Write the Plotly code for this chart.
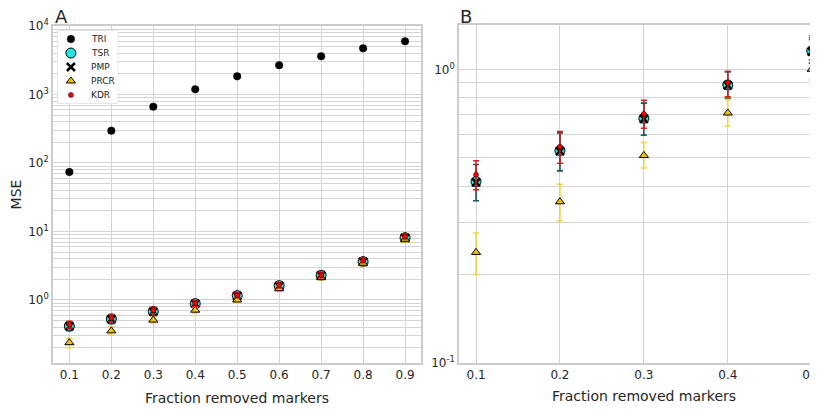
import math
import plotly.graph_objects as go

fractions = [0.1, 0.2, 0.3, 0.4, 0.5, 0.6, 0.7, 0.8, 0.9]

tri = [74, 296, 665, 1190, 1840, 2670, 3610, 4720, 5970]

tsr = [0.415, 0.529, 0.681, 0.885, 1.157, 1.62, 2.29, 3.63, 8.13]
tsr_hi = [0.474, 0.608, 0.769, 0.980, 1.28, 1.80, 2.55, 4.00, 9.0]
tsr_lo = [0.357, 0.452, 0.598, 0.797, 1.05, 1.45, 2.05, 3.30, 7.3]

pmp = [0.412, 0.527, 0.678, 0.882, 1.150, 1.61, 2.28, 3.62, 8.10]
pmp_hi = [0.474, 0.606, 0.765, 0.985, 1.30, 1.80, 2.55, 4.00, 9.0]
pmp_lo = [0.357, 0.450, 0.596, 0.795, 1.05, 1.45, 2.05, 3.30, 7.3]

prcr = [0.238, 0.354, 0.509, 0.710, 1.000, 1.46, 2.12, 3.43, 7.7]
prcr_hi = [0.277, 0.406, 0.563, 0.790, 1.08, 1.60, 2.30, 3.70, 8.4]
prcr_lo = [0.200, 0.305, 0.461, 0.641, 0.92, 1.33, 1.95, 3.15, 7.0]

kdr = [0.438, 0.545, 0.705, 0.900, 1.172, 1.65, 2.32, 3.80, 8.5]
kdr_hi = [0.488, 0.614, 0.785, 0.984, 1.26, 1.80, 2.55, 4.10, 9.3]
kdr_lo = [0.389, 0.479, 0.630, 0.807, 1.076, 1.50, 2.10, 3.50, 7.8]

series_names = ["TRI", "TSR", "PMP", "PRCR", "KDR"]
xticks_a = [0.1, 0.2, 0.3, 0.4, 0.5, 0.6, 0.7, 0.8, 0.9]
xticks_b = [0.1, 0.2, 0.3, 0.4, 0.5]

FONT = "DejaVu Sans"
TXT = "#262626"
GRID = "#d4d4d4"
SPINE = "#cccccc"

# the page places the figure 8 px from its top-left corner
OFF = 8
W, H = 818 - OFF, 410 - OFF


def px(x):
    return (x - OFF) / W


def py(y):
    return (410 - y) / H


def err(vals, hi, lo, color, thick):
    return dict(type="data", symmetric=False,
                array=[h - v for h, v in zip(hi, vals)],
                arrayminus=[v - l for v, l in zip(vals, lo)],
                color=color, thickness=thick, width=3)


def log_ticks(dmin, dmax):
    vals, txt = [], []
    for d in range(dmin, dmax + 1):
        for m in range(1, 10):
            vals.append(m * 10 ** d)
            txt.append(f"10<sup>{d}</sup>" if m == 1 else "")
    return vals, txt


markers = {
    "TRI": dict(symbol="circle", size=7.5, color="black", line=dict(color="black", width=0.5)),
    "TSR": dict(symbol="circle", size=10, color="#22e5e5", line=dict(color="black", width=1)),
    "PMP": dict(symbol="x-thin", size=8, color="black", line=dict(color="black", width=2.5)),
    "PRCR": dict(symbol="triangle-up", size=8, color="#f2c200", line=dict(color="black", width=1)),
    "KDR": dict(symbol="circle", size=5, color="red", line=dict(color="black", width=0.5)),
}

series = [
    ("TRI", tri, None),
    ("TSR", tsr, (tsr_hi, tsr_lo, "#2e7878", 1.5)),
    ("PMP", pmp, (pmp_hi, pmp_lo, "#234f4f", 1.0)),
    ("PRCR", prcr, (prcr_hi, prcr_lo, "#f5d33a", 1.5)),
    ("KDR", kdr, (kdr_hi, kdr_lo, "#e01818", 1.5)),
]

# panel geometry (page pixels)
A_L, A_R, A_T, A_B = 53, 421, 26, 363
B_L, B_T, B_B = 459, 25, 363
A_XR = [0.061, 0.938]
A_YR = [-0.92, 4.0]

fig = go.Figure()

for xa, ya, clip in [("x", "y", True), ("x2", "y2", False)]:
    for name, vals, e in series:
        if not clip and name == "TRI":
            continue
        kw = {}
        if e is not None:
            kw["error_y"] = err(vals, *e)
        fig.add_trace(go.Scatter(
            x=fractions, y=vals, mode="markers", name=name, marker=markers[name],
            xaxis=xa, yaxis=ya, showlegend=False, cliponaxis=clip, **kw))

# legend keys, drawn in a small overlay axis of their own
n = len(series_names)
for i, name in enumerate(series_names):
    fig.add_trace(go.Scatter(
        x=[0.22], y=[n - i], mode="markers", marker=markers[name],
        xaxis="x3", yaxis="y3", showlegend=False, hoverinfo="skip"))

ya_vals, ya_txt = log_ticks(-1, 4)
yb_vals, yb_txt = log_ticks(-1, 0)

axis_common = dict(showline=True, linecolor=SPINE, linewidth=1.5, mirror=True,
                   showgrid=True, gridcolor=GRID, gridwidth=1, ticks="",
                   zeroline=False, automargin=False, ticklabeloverflow="allow",
                   tickfont=dict(size=12, color=TXT, family=FONT))

LG_L, LG_R, LG_T, LG_B = 57.7, 117.7, 30.7, 103.3


def a_x(pxl):
    return A_XR[0] + (pxl - A_L) / (A_R - A_L) * (A_XR[1] - A_XR[0])


def a_y(pxl):
    return 10 ** (A_YR[1] - (pxl - A_T) / (A_B - A_T) * (A_YR[1] - A_YR[0]))


annotations = [
    dict(text="A", x=px(53), y=py(16), xref="paper", yref="paper",
         xanchor="left", yanchor="middle", showarrow=False,
         font=dict(size=18, color=TXT, family=FONT)),
    dict(text="B", x=px(458), y=py(16), xref="paper", yref="paper",
         xanchor="left", yanchor="middle", showarrow=False,
         font=dict(size=18, color=TXT, family=FONT)),
    dict(text="Fraction removed markers", x=px(643.6), y=py(396), xref="paper", yref="paper",
         xanchor="center", yanchor="middle", showarrow=False,
         font=dict(size=14, color=TXT, family=FONT)),
]
for i, name in enumerate(series_names):
    annotations.append(dict(text=name, x=0.52, y=n - i, xref="x3", yref="y3",
                            xanchor="left", yanchor="middle", showarrow=False,
                            font=dict(size=9, color=TXT, family=FONT)))

fig.update_layout(
    width=W, height=H,
    margin=dict(l=0, r=0, t=0, b=0),
    plot_bgcolor="white", paper_bgcolor="white",
    font=dict(family=FONT, color=TXT),
    showlegend=False,
    xaxis=dict(domain=[px(A_L), px(A_R)], range=A_XR,
               tickvals=xticks_a, ticktext=[f"{v:.1f}" for v in xticks_a],
               title=dict(text="Fraction removed markers", font=dict(size=14, color=TXT), standoff=12),
               anchor="y", **axis_common),
    yaxis=dict(domain=[py(A_B), py(A_T)], type="log", range=A_YR,
               tickvals=ya_vals, ticktext=ya_txt,
               title=dict(text="MSE", font=dict(size=14, color=TXT), standoff=8),
               anchor="x", **axis_common),
    xaxis2=dict(domain=[px(B_L), 1.0], range=[0.0797, 0.5075],
                tickvals=xticks_b, ticktext=[f"{v:.1f}" for v in xticks_b],
                anchor="y2", **axis_common),
    yaxis2=dict(domain=[py(B_B), py(B_T)], type="log", range=[-1.0, 0.151],
                tickvals=yb_vals, ticktext=yb_txt,
                anchor="x2", **axis_common),
    xaxis3=dict(domain=[px(LG_L), px(LG_R)], range=[0, 1],
                visible=False, fixedrange=True, anchor="y3"),
    yaxis3=dict(domain=[py(LG_B), py(LG_T)], range=[0.4, n + 0.6],
                visible=False, fixedrange=True, anchor="x3"),
    shapes=[dict(type="rect", xref="x", yref="y",
                 x0=a_x(LG_L), x1=a_x(LG_R), y0=a_y(LG_B), y1=a_y(LG_T),
                 fillcolor="white", line=dict(color="#d6d6d6", width=1), layer="between")],
    annotations=annotations,
)

fig.write_html("out.html")
